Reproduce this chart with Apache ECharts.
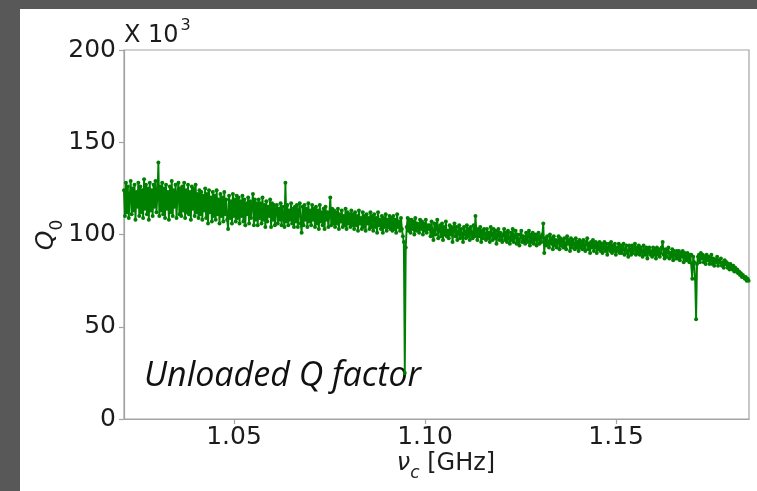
<!DOCTYPE html>
<html>
<head>
<meta charset="utf-8">
<script src="https://cdn.jsdelivr.net/npm/echarts@6/dist/echarts.min.js"></script>
<style>
  html, body { margin: 0; padding: 0; background: #585858; width: 757px; height: 491px; overflow: hidden; }
  #panel { position: absolute; left: 20px; top: 9px; width: 737px; height: 482px; background: #ffffff; }
</style>
</head>
<body>
<div id="panel"></div>
<script>
// Frequency sweep of the cavity scan (GHz)
const freqStart = 1.0212;
const freqStep = 0.00025;

// Unloaded quality factor Q0 for each sweep point, in units of 10^3
const q0 = [
  124, 110, 128, 112, 126, 109, 121, 129, 111, 125, 113, 127, 108, 123, 115, 128, 110, 126, 112, 124,
  109, 130, 114, 127, 111, 125, 108, 128, 113, 124, 110, 127, 115, 129, 112, 121, 139, 110, 126, 113,
  128, 111, 125, 109, 127, 114, 123, 108, 126, 112, 129, 110, 124, 115, 127, 109, 122, 128, 111, 125,
  110, 126, 113, 128, 109, 124, 112, 127, 111, 123, 108, 126, 114, 125, 110, 127, 112, 122, 109, 124,
  111, 123, 108, 121, 113, 125, 109, 122, 106, 124, 112, 120, 107, 123, 110, 121, 108, 124, 111, 119,
  106, 122, 110, 120, 107, 123, 111, 119, 108, 103, 121, 109, 118, 106, 122, 110, 119, 107, 121, 109,
  120, 106, 118, 110, 121, 107, 119, 105, 117, 111, 120, 106, 118, 109, 116, 122, 105, 119, 108, 117,
  105, 119, 109, 117, 106, 120, 108, 116, 104, 118, 107, 115, 110, 119, 104, 117, 108, 116, 105, 114,
  116, 106, 114, 108, 117, 105, 115, 109, 104, 128, 107, 116, 105, 113, 108, 117, 106, 114, 104, 115,
  107, 116, 104, 113, 117, 106, 101, 115, 105, 116, 108, 114, 104, 117, 107, 113, 105, 116, 108, 114,
  104, 115, 106, 113, 103, 116, 107, 112, 105, 114, 103, 115, 108, 112, 104, 111, 120, 105, 114, 106,
  113, 104, 112, 106, 114, 103, 111, 107, 113, 104, 110, 105, 114, 103, 112, 106, 111, 104, 113, 105,
  111, 103, 112, 105, 110, 102, 113, 106, 109, 103, 112, 104, 110, 102, 111, 106, 109, 103, 112, 104,
  110, 102, 111, 104, 109, 101, 112, 105, 108, 103, 110, 101, 109, 104, 111, 102, 108, 104, 110, 103,
  109, 102, 110, 103, 108, 101, 111, 104, 107, 102, 109, 103, 99, 96, 25, 93, 104, 109, 102, 108,
  101, 108, 103, 107, 100, 109, 102, 106, 104, 101, 108, 103, 107, 100, 106, 102, 108, 101, 105, 103,
  105, 99, 107, 101, 97, 106, 100, 104, 108, 98, 103, 105, 99, 106, 97, 104, 100, 107, 99, 102,
  98, 105, 100, 104, 96, 103, 106, 99, 104, 97, 101, 105, 98, 103, 100, 96, 104, 101, 98, 105,
  99, 103, 97, 104, 100, 98, 105, 99, 110, 101, 97, 103, 99, 104, 96, 102, 98, 103, 100, 97,
  103, 98, 101, 96, 104, 100, 97, 103, 98, 102, 95, 100, 103, 97, 101, 99, 96, 100, 103, 97,
  101, 96, 102, 98, 95, 101, 97, 103, 96, 99, 102, 95, 100, 97, 94, 100, 102, 96, 99, 97,
  95, 101, 97, 96, 102, 94, 100, 96, 101, 95, 98, 100, 94, 98, 101, 95, 99, 96, 100, 106,
  90, 98, 94, 99, 95, 93, 100, 95, 98, 92, 99, 94, 97, 93, 96, 99, 92, 98, 94, 97,
  93, 98, 94, 92, 99, 95, 97, 91, 98, 93, 97, 95, 92, 98, 93, 96, 91, 97, 93, 96,
  92, 97, 94, 91, 96, 98, 92, 95, 90, 96, 93, 97, 91, 94, 96, 90, 95, 92, 96, 91,
  95, 90, 93, 96, 91, 95, 89, 93, 95, 91, 96, 90, 94, 91, 95, 89, 93, 91, 95, 90,
  94, 90, 92, 95, 89, 92, 94, 90, 88, 94, 92, 89, 94, 90, 92, 95, 89, 93, 90, 94,
  89, 93, 91, 88, 94, 90, 89, 93, 87, 92, 93, 89, 91, 88, 93, 89, 92, 87, 93, 89,
  92, 88, 90, 93, 96, 89, 87, 92, 88, 91, 93, 87, 90, 88, 92, 86, 91, 89, 87, 91,
  87, 91, 86, 90, 88, 91, 85, 90, 88, 86, 90, 88, 85, 89, 89, 76, 88, 85, 76, 54,
  84, 88, 89, 85, 90, 87, 89, 85, 88, 84, 89, 86, 88, 84, 86, 89, 84, 87, 83, 86,
  85, 88, 83, 86, 85, 87, 83, 85, 82, 86, 84, 85, 82, 84, 81, 84, 83, 81, 83, 80,
  82, 80, 81, 79, 80, 78, 79, 77, 78, 77, 76, 77, 75, 76, 75
];

// Axis tick values
const xTicks = [1.05, 1.10, 1.15];
const yTicks = [0, 50, 100, 150, 200];

const GREEN = '#008000';
const SPINE = '#a3a3a3';
const TXT = '#1c1c1c';
const MONO = 'DejaVu Sans';

const points = q0.map((q, i) => [freqStart + i * freqStep, q]);

const chart = echarts.init(document.getElementById('panel'), null, { renderer: 'canvas' });

chart.setOption({
  animation: false,
  backgroundColor: '#ffffff',
  grid: {
    left: 104, top: 41, right: 8, bottom: 72,
    show: true, borderColor: SPINE, borderWidth: 1.2,
    backgroundColor: 'transparent',
    containLabel: false,
    outerBoundsMode: 'none'
  },
  xAxis: {
    type: 'value',
    min: 1.0212,
    max: 1.1848,
    axisLine: { show: true, onZero: false, lineStyle: { color: SPINE, width: 1.2 } },
    axisTick: { show: true, customValues: xTicks, length: 5, lineStyle: { color: SPINE, width: 1.2 } },
    axisLabel: {
      customValues: xTicks,
      formatter: v => v.toFixed(2),
      fontFamily: MONO, fontSize: 25, color: TXT, margin: 6
    },
    splitLine: { show: false }
  },
  yAxis: {
    type: 'value',
    min: yTicks[0],
    max: yTicks[yTicks.length - 1],
    interval: 50,
    axisLine: { show: true, onZero: false, lineStyle: { color: SPINE, width: 1.2 } },
    axisTick: { show: true, length: 5, lineStyle: { color: SPINE, width: 1.2 } },
    axisLabel: { fontFamily: MONO, fontSize: 25, color: TXT, margin: 8 },
    splitLine: { show: false }
  },
  series: [{
    type: 'line',
    data: points,
    showSymbol: true,
    symbol: 'circle',
    symbolSize: 4,
    lineStyle: { color: GREEN, width: 1.9 },
    itemStyle: { color: GREEN },
    clip: true,
    z: 3
  }],
  graphic: [
    {
      // exponent of the y scale
      type: 'text', left: 104, top: 9,
      style: {
        text: '{b|X 10}{p|3}',
        rich: {
          b: { fontFamily: MONO, fontSize: 24, fill: TXT, lineHeight: 30, verticalAlign: 'bottom' },
          p: { fontFamily: MONO, fontSize: 16, fill: TXT, lineHeight: 30, verticalAlign: 'top', padding: [0, 0, 0, 2] }
        }
      }
    },
    {
      // y axis title: Q0
      type: 'text', x: 30, y: 226, rotation: Math.PI / 2,
      style: {
        text: '{q|Q}{s|0}',
        align: 'center', verticalAlign: 'middle',
        rich: {
          q: { fontFamily: MONO, fontStyle: 'italic', fontSize: 25, fill: TXT, lineHeight: 32, verticalAlign: 'top' },
          s: { fontFamily: MONO, fontSize: 17, fill: TXT, lineHeight: 32, verticalAlign: 'bottom' }
        }
      }
    },
    {
      // x axis title: nu_c [GHz]
      type: 'text', x: 426, y: 458,
      style: {
        text: '{n|ν}{s|c}{r| [GHz]}',
        align: 'center', verticalAlign: 'middle',
        rich: {
          n: { fontFamily: MONO, fontStyle: 'italic', fontSize: 24, fill: TXT, lineHeight: 30, verticalAlign: 'top' },
          s: { fontFamily: MONO, fontStyle: 'italic', fontSize: 17, fill: TXT, lineHeight: 30, verticalAlign: 'bottom' },
          r: { fontFamily: MONO, fontSize: 24, fill: TXT, lineHeight: 30, verticalAlign: 'top' }
        }
      }
    },
    {
      type: 'text', x: 124, y: 367,
      style: {
        text: 'Unloaded Q factor',
        fontFamily: 'Open Sans', fontStyle: 'italic', fontSize: 34, fill: '#111111',
        align: 'left', verticalAlign: 'middle'
      }
    }
  ]
});
</script>
</body>
</html>
